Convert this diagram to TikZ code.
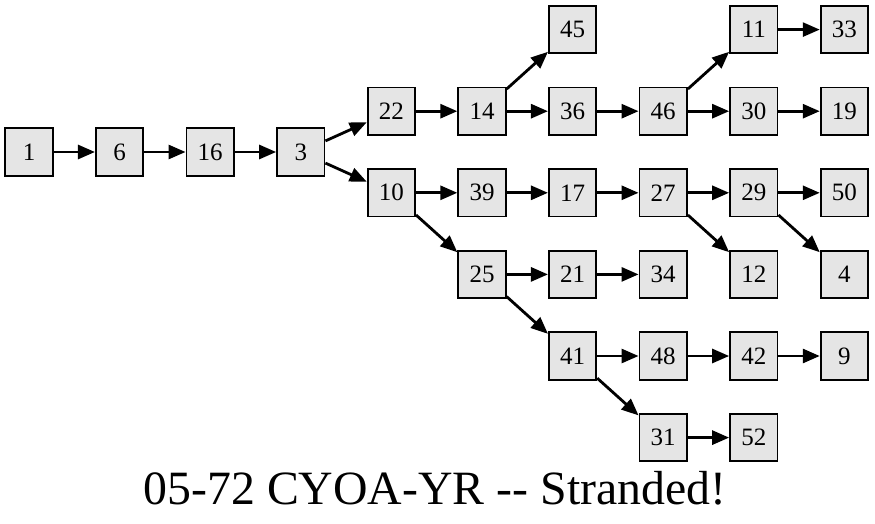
\documentclass[tikz,border=0pt]{standalone}
\usepackage{fontspec}
\setmainfont{Liberation Serif}
\usepackage{tikz}
\usetikzlibrary{positioning,arrows.meta}

\begin{document}
\begin{tikzpicture}[
    on grid,
    node distance=40.8pt and 90.6pt, % Rows and columns
    page/.style={rectangle, draw, line width=1.8pt, fill=black!10, minimum size=47.5pt, inner sep=0pt, font=\fontsize{25}{25}\selectfont}, % Page boxes
    link/.style={-{Triangle[length=17pt, width=14pt]}, line width=2.8pt} % Links
    ]

    \useasboundingbox (0,0) rectangle (875pt,-524pt);

    % Start
    \node[page] (p1) at (29pt,-152pt) {1};
    \node[page, right=of p1] (p6) {6};
    \node[page, right=of p6] (p16) {16};
    \node[page, right=of p16] (p3) {3};

    % First choice
    \node[page, above right=of p3] (p22) {22};
    \node[page, below right=of p3] (p10) {10};

    % Upper branch
    \node[page, right=of p22] (p14) {14};
    \node[page, above right=81.6pt and 90.6pt of p14] (p45) {45};
    \node[page, right=of p14] (p36) {36};
    \node[page, right=of p36] (p46) {46};
    \node[page, above right=81.6pt and 90.6pt of p46] (p11) {11};
    \node[page, right=of p11] (p33) {33};
    \node[page, right=of p46] (p30) {30};
    \node[page, right=of p30] (p19) {19};

    % Lower branch
    \node[page, right=of p10] (p39) {39};
    \node[page, right=of p39] (p17) {17};
    \node[page, right=of p17] (p27) {27};
    \node[page, right=of p27] (p29) {29};
    \node[page, right=of p29] (p50) {50};
    \node[page, below right=81.6pt and 90.6pt of p27] (p12) {12};
    \node[page, below right=81.6pt and 90.6pt of p29] (p4) {4};

    \node[page, below right=81.6pt and 90.6pt of p10] (p25) {25};
    \node[page, right=of p25] (p21) {21};
    \node[page, right=of p21] (p34) {34};
    \node[page, below right=81.6pt and 90.6pt of p25] (p41) {41};
    \node[page, right=of p41] (p48) {48};
    \node[page, right=of p48] (p42) {42};
    \node[page, right=of p42] (p9) {9};
    \node[page, below right=81.6pt and 90.6pt of p41] (p31) {31};
    \node[page, right=of p31] (p52) {52};

    % Links between pages
    \foreach \a/\b in {1/6, 6/16, 16/3, 3/22, 3/10, 22/14, 14/45, 14/36, 36/46,
                       46/11, 46/30, 11/33, 30/19, 10/39, 10/25, 39/17, 17/27,
                       27/29, 27/12, 29/50, 29/4, 25/21, 21/34, 25/41, 41/48,
                       48/42, 42/9, 41/31, 31/52}
        \draw[link] (p\a) -- (p\b);

    % Title
    \node[anchor=base, font=\fontsize{47.8}{47.8}\selectfont] (title) at (435pt,-504pt) {05-72 CYOA-YR -{}- Stranded!};

\end{tikzpicture}
\end{document}
